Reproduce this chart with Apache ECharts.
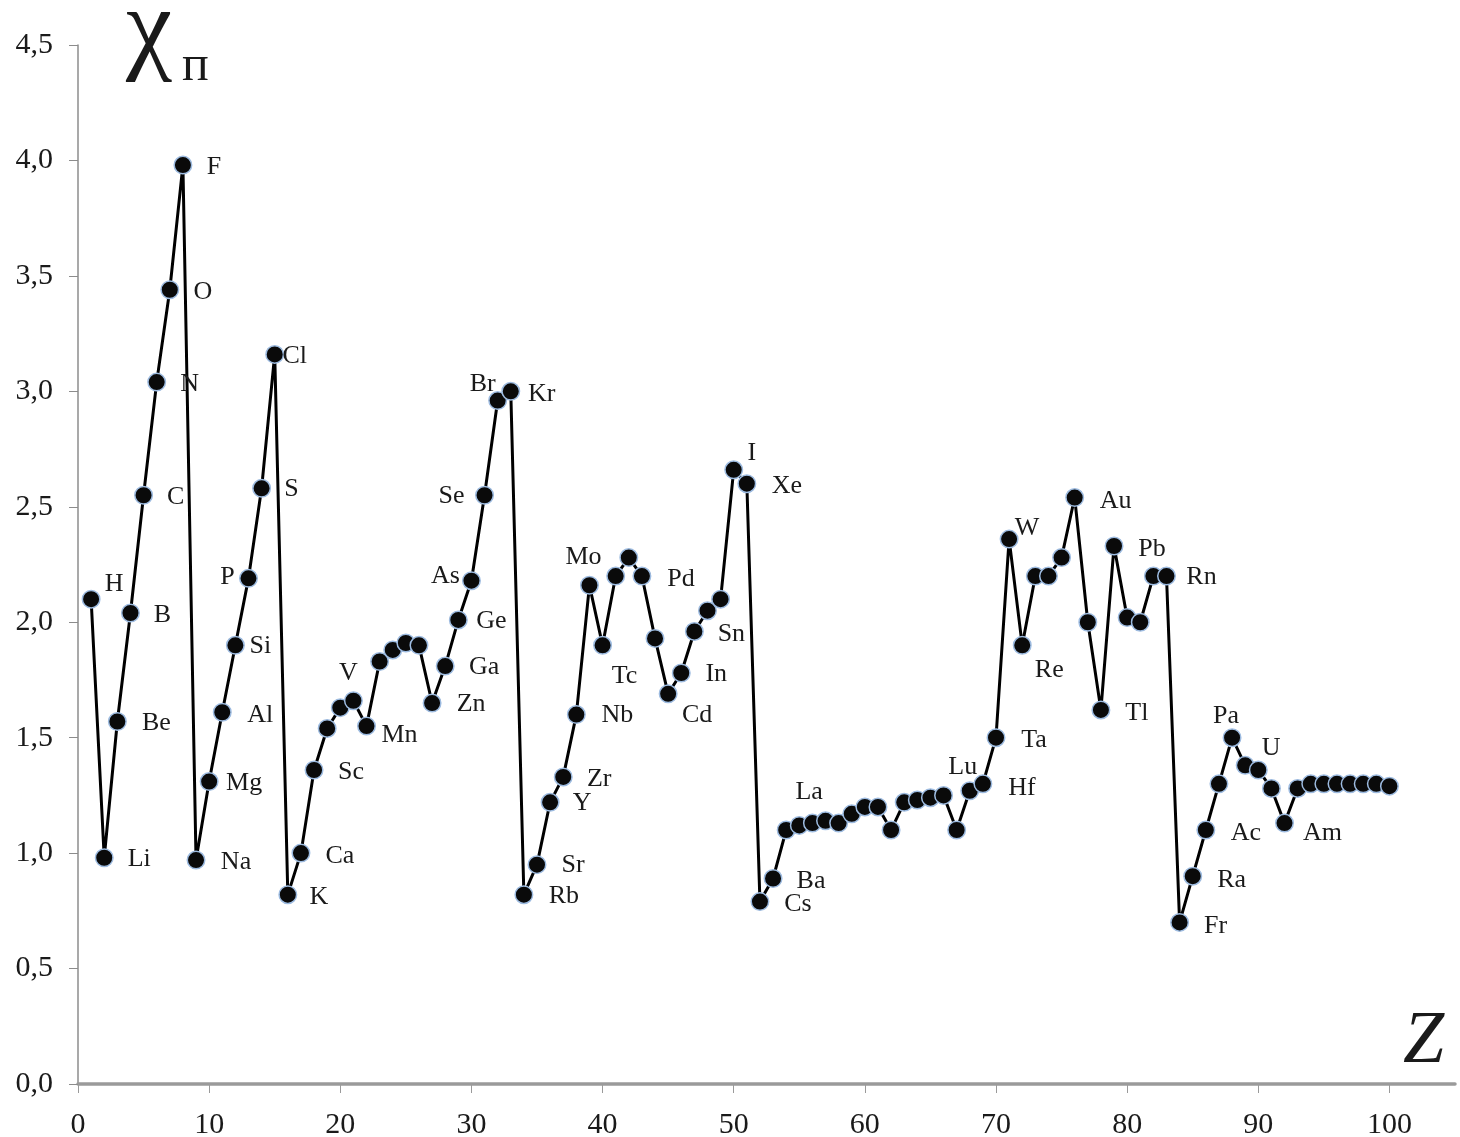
<!DOCTYPE html>
<html>
<head>
<meta charset="utf-8">
<title>Electronegativity vs Z</title>
<script src="https://cdn.jsdelivr.net/npm/echarts@6.0.0/dist/echarts.min.js"></script>
<style>
html, body { margin: 0; padding: 0; background: #fff; }
#main { width: 1460px; height: 1137px; }
</style>
</head>
<body>
<div id="main"></div>
<script>
// elements in plot order (He, Ne, Ar are not plotted)
var symbols = ['H','Li','Be','B','C','N','O','F','Na','Mg',
    'Al','Si','P','S','Cl','K','Ca','Sc','Ti','V',
    'Cr','Mn','Fe','Co','Ni','Cu','Zn','Ga','Ge','As',
    'Se','Br','Kr','Rb','Sr','Y','Zr','Nb','Mo','Tc',
    'Ru','Rh','Pd','Ag','Cd','In','Sn','Sb','Te','I',
    'Xe','Cs','Ba','La','Ce','Pr','Nd','Pm','Sm','Eu',
    'Gd','Tb','Dy','Ho','Er','Tm','Yb','Lu','Hf','Ta',
    'W','Re','Os','Ir','Pt','Au','Hg','Tl','Pb','Bi',
    'Po','At','Rn','Fr','Ra','Ac','Th','Pa','U','Np',
    'Pu','Am','Cm','Bk','Cf','Es','Fm','Md','No','Lr'];

// chi values
var chiValues = [2.10, 0.98, 1.57, 2.04, 2.55, 3.04, 3.44, 3.98, 0.97, 1.31,
    1.61, 1.90, 2.19, 2.58, 3.16, 0.82, 1.00, 1.36, 1.54, 1.63,
    1.66, 1.55, 1.83, 1.88, 1.91, 1.90, 1.65, 1.81, 2.01, 2.18,
    2.55, 2.96, 3.00, 0.82, 0.95, 1.22, 1.33, 1.60, 2.16, 1.90,
    2.20, 2.28, 2.20, 1.93, 1.69, 1.78, 1.96, 2.05, 2.10, 2.66,
    2.60, 0.79, 0.89, 1.10, 1.12, 1.13, 1.14, 1.13, 1.17, 1.20,
    1.20, 1.10, 1.22, 1.23, 1.24, 1.25, 1.10, 1.27, 1.30, 1.50,
    2.36, 1.90, 2.20, 2.20, 2.28, 2.54, 2.00, 1.62, 2.33, 2.02,
    2.00, 2.20, 2.20, 0.70, 0.90, 1.10, 1.30, 1.50, 1.38, 1.36,
    1.28, 1.13, 1.28, 1.30, 1.30, 1.30, 1.30, 1.30, 1.30, 1.29];

var xTicks = [0, 10, 20, 30, 40, 50, 60, 70, 80, 90, 100];
var yTicks = [0, 0.5, 1, 1.5, 2, 2.5, 3, 3.5, 4, 4.5];

// where the name sits, px from the dot centre (only named elements)
var labelOffset = {
    H: [23, -15], Li: [35, 1], Be: [39, 2], B: [32, 2], C: [32, 2],
    N: [33, 2], O: [33, 2], F: [31, 2], Na: [40, 2], Mg: [35, 2],
    Al: [38, 3], Si: [25, 1], P: [-21, -1], S: [30, 1], Cl: [20, 2],
    K: [31, 3], Ca: [39, 3], Sc: [37, 2], V: [8, -34], Mn: [33, 9],
    Zn: [39, 1], Ga: [39, 1], Ge: [33, 1], As: [-26, -4], Se: [-33, 1],
    Br: [-15, -16], Kr: [31, 3], Rb: [40, 2], Sr: [36, 1], Y: [32, 1],
    Zr: [36, 2], Nb: [41, 1], Mo: [-6, -28], Tc: [22, 31], Pd: [39, 3],
    Cd: [29, 21], In: [35, 1], Sn: [37, 3], I: [18, -17], Xe: [40, 2],
    Cs: [38, 3], Ba: [38, 3], La: [23, -38], Lu: [-7, -24], Hf: [39, 4],
    W: [18, -11], Re: [27, 25], Ta: [38, 3], Au: [41, 4], Tl: [36, 3],
    Pb: [38, 3], Rn: [35, 1], Fr: [36, 4], Ra: [39, 4], Ac: [40, 3],
    Pa: [-6, -21], U: [26, -17], Am: [38, 10]
};

var serif = "'Liberation Serif', 'DejaVu Serif', serif";
var inkColor = '#1a1a1a';
var axisGrey = '#9a9a9a';

var seriesData = [];
for (var i = 0; i < chiValues.length; i++) {
    var item = { value: [i + 1, chiValues[i]] };
    var off = labelOffset[symbols[i]];
    if (off) {
        item.label = { show: true, position: 'inside', offset: off };
    }
    seriesData.push(item);
}

var chart = echarts.init(document.getElementById('main'));

var option = {
    backgroundColor: '#fff',
    animation: false,
    grid: { left: 78, right: 5, top: 45, bottom: 53, outerBoundsMode: 'none' },
    xAxis: {
        type: 'value',
        min: 0,
        max: 105,
        splitLine: { show: false },
        axisLine: { show: true, onZero: false, lineStyle: { color: axisGrey, width: 3.5 } },
        axisTick: { show: true, length: 9, customValues: xTicks, lineStyle: { color: axisGrey, width: 1 } },
        axisLabel: {
            customValues: xTicks,
            margin: 26,
            color: inkColor,
            fontFamily: serif,
            fontSize: 30
        }
    },
    yAxis: {
        type: 'value',
        min: 0,
        max: 4.5,
        interval: 0.5,
        splitLine: { show: false },
        axisLine: { show: true, lineStyle: { color: '#8c8c8c', width: 1.5 } },
        axisTick: { show: true, length: 9, lineStyle: { color: '#8c8c8c', width: 1 } },
        axisLabel: {
            margin: 25,
            padding: [7, 0, 0, 0],
            color: inkColor,
            fontFamily: serif,
            fontSize: 30,
            formatter: function (v) {
                return v.toFixed(1).replace('.', ',');
            }
        }
    },
    graphic: [
        {
            type: 'text',
            left: 126, top: -19,
            style: { text: 'χ', font: '104px ' + serif, fill: inkColor }
        },
        {
            type: 'text',
            left: 182, top: 42,
            style: { text: 'п', font: '50px ' + serif, fill: inkColor }
        },
        {
            type: 'text',
            left: 1403, top: 1006,
            style: { text: 'Z', font: 'italic 74px ' + serif, fill: inkColor }
        }
    ],
    series: [
        {
            type: 'line',
            data: seriesData,
            symbol: 'circle',
            symbolSize: 17.5,
            lineStyle: { color: '#000', width: 3 },
            itemStyle: { color: '#0a0a0a', borderColor: '#9dbbe0', borderWidth: 1.5 },
            label: {
                show: false,
                color: inkColor,
                fontFamily: serif,
                fontSize: 26,
                formatter: function (p) {
                    return symbols[p.dataIndex];
                }
            },
            emphasis: { disabled: true },
            z: 3
        }
    ]
};

chart.setOption(option);
</script>
</body>
</html>
